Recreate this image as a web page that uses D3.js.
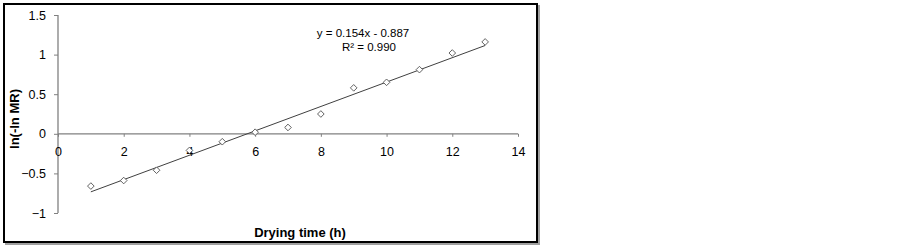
<!DOCTYPE html>
<html>
<head>
<meta charset="utf-8">
<script src="https://cdn.jsdelivr.net/npm/d3@7"></script>
<style>
  body { margin: 0; background: #fff; }
  text { font-family: "Liberation Sans", Arial, sans-serif; }
</style>
</head>
<body>
<div id="chart"></div>
<script>
// data
var dryingTime = [1, 2, 3, 4, 5, 6, 7, 8, 9, 10, 11, 12, 13];
var lnMR = [-0.66, -0.59, -0.46, -0.21, -0.10, 0.02, 0.08, 0.25, 0.58, 0.65, 0.81, 1.02, 1.16];
var xTicks = [0, 2, 4, 6, 8, 10, 12, 14];
var yTicks = [-1, -0.5, 0, 0.5, 1, 1.5];
var slope = 0.154, intercept = -0.887;
var eqLabels = ["y = 0.154x - 0.887", "R\u00b2 = 0.990"];

var svgWidth = 903, svgHeight = 247;

var svg = d3.select("#chart").append("svg")
  .attr("width", svgWidth)
  .attr("height", svgHeight);

// frame with a little shadow
svg.append("rect")
  .attr("x", 6).attr("y", 6).attr("width", 533).attr("height", 238)
  .attr("fill", "none").attr("stroke", "#a0a0a0").attr("stroke-width", 2);
svg.append("rect")
  .attr("x", 4).attr("y", 4).attr("width", 533).attr("height", 238)
  .attr("fill", "#fff").attr("stroke", "#000").attr("stroke-width", 2);

// scales
var x = d3.scaleLinear().domain([0, 14]).range([58, 518]);
var y = d3.scaleLinear().domain([-1, 1.5]).range([213, 15]);

var axisColor = "#808080";

// y axis (at x = 0)
var yAxis = svg.append("g")
  .attr("transform", `translate(${x(0)},0)`)
  .call(d3.axisLeft(y).tickValues(yTicks).tickSize(4).tickPadding(8)
    .tickFormat(d => d3.format("")(d)));

// x axis (at y = 0)
var xAxis = svg.append("g")
  .attr("transform", `translate(0,${y(0)})`)
  .call(d3.axisBottom(x).tickValues(xTicks).tickSize(3).tickPadding(10));

[xAxis, yAxis].forEach(g => {
  g.select(".domain").attr("stroke", axisColor).attr("stroke-width", 1.3);
  g.selectAll(".tick line").attr("stroke", axisColor);
  g.selectAll(".tick text")
    .attr("fill", "#000")
    .style("font-size", "12.5px")
    .style("font-family", "'Liberation Sans', Arial, sans-serif");
});
xAxis.select(".domain").attr("d", `M${x(0)},0H${x(14)}`);
yAxis.select(".domain").attr("d", `M0,${y(-1)}V${y(1.5)}`);

// trend line
svg.append("line")
  .attr("x1", x(1)).attr("y1", y(slope * 1 + intercept))
  .attr("x2", x(13)).attr("y2", y(slope * 13 + intercept))
  .attr("stroke", "#404040").attr("stroke-width", 1);

// diamond markers
svg.selectAll("path.pt")
  .data(dryingTime)
  .enter()
  .append("path")
  .attr("class", "pt")
  .attr("d", d3.symbol().type(d3.symbolDiamond2).size(28))
  .attr("transform", (d, i) => `translate(${x(d)},${y(lnMR[i])})`)
  .attr("fill", "#fff")
  .attr("stroke", "#505050")
  .attr("stroke-width", 0.9);

// equation
svg.append("text")
  .attr("x", 363).attr("y", 37)
  .attr("text-anchor", "middle")
  .style("font-size", "11.5px")
  .text(eqLabels[0]);
svg.append("text")
  .attr("x", 369).attr("y", 50.5)
  .attr("text-anchor", "middle")
  .style("font-size", "11.5px")
  .text(eqLabels[1]);

// axis titles
svg.append("text")
  .attr("transform", "translate(19,119) rotate(-90)")
  .attr("text-anchor", "middle")
  .style("font-size", "13px")
  .style("font-weight", "bold")
  .text("ln(-ln MR)");

svg.append("text")
  .attr("x", 300).attr("y", 237)
  .attr("text-anchor", "middle")
  .style("font-size", "13px")
  .style("font-weight", "bold")
  .text("Drying time (h)");
</script>
</body>
</html>
